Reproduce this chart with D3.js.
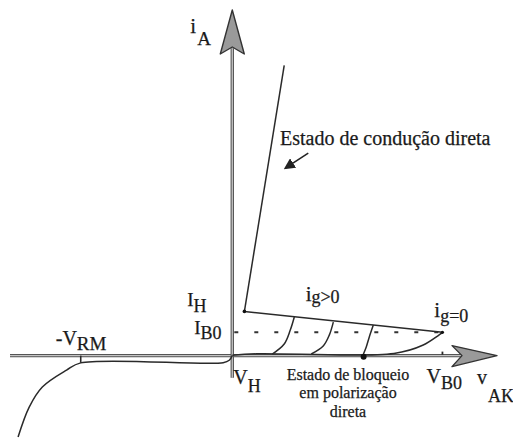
<!DOCTYPE html>
<html>
<head>
<meta charset="utf-8">
<script src="https://cdn.jsdelivr.net/npm/d3@7"></script>
<style>
  html, body { margin: 0; padding: 0; background: #fff; }
  svg { display: block; }
  text { font-family: "Liberation Serif", "Times New Roman", serif; fill: #1a1a1a; stroke: #1a1a1a; stroke-width: 0.25; }
</style>
</head>
<body>
<svg id="chart" width="513" height="439"></svg>
<script>
// Thyristor static characteristic: anode current iA versus anode-cathode voltage vAK
// (arbitrary units, schematic).

// Characteristic points
const holdingVoltage = 6;       // V_H
const holdingCurrent = 22;      // I_H
const breakoverVoltage = 104;   // V_B0
const breakoverCurrent = 11.6;  // I_B0
const reverseMaxVoltage = -75;  // -V_RM

// Reverse blocking branch (v, i)
const reverseCurve = [[0, 0], [-1.5, -2.3], [-4.5, -3.5], [-75, -3.6], [-82, -7.2], [-94, -15.6], [-100.5, -25.6], [-106, -40.5]];
// Forward blocking branch for ig = 0
const forwardBlocking = [[0, 0.2], [12, 0.9], [80, 1.1], [94.5, 5.3], [104, 11.6]];
// Forward conduction branch
const onStateLine = [[6, 22], [25.7, 144.5]];
// Negative-resistance transition from V_B0 back to the holding point
const transitionLine = [[6, 22], [104, 11.6]];
// Turn-on curves for increasing gate current (ig > 0)
const gateCurves = [
  [[30.7, 19.2], [28.7, 12.7], [25.7, 5.8], [19.8, 0.8]],
  [[50.0, 16.7], [48.0, 10.2], [45.0, 4.8], [39.1, 0.8]],
  [[69.8, 15.2], [67.8, 9.3], [66.3, 4.3], [64.9, 0.8]]
];
// Marked operating point on the blocking branch
const blockingPoint = [65, -0.6];

const svg = d3.select("#chart");
const x = d3.scaleLinear().domain([-110, 131]).range([10, 497]);
const y = d3.scaleLinear().domain([-40, 172]).range([436, 10]);

const line = d3.line().x(d => x(d[0])).y(d => y(d[1]));
const smooth = d3.line().x(d => x(d[0])).y(d => y(d[1])).curve(d3.curveCatmullRom.alpha(0.5));

const x0 = x(0), y0 = y(0);

// Axes: grey double-edged lines
function axisLine(x1, y1, x2, y2) {
  svg.append("line").attr("x1", x1).attr("y1", y1).attr("x2", x2).attr("y2", y2)
    .attr("stroke", "#555").attr("stroke-width", 3.4);
  svg.append("line").attr("x1", x1).attr("y1", y1).attr("x2", x2).attr("y2", y2)
    .attr("stroke", "#c4c4c4").attr("stroke-width", 1.3);
}
axisLine(x(-110), y0, x(114), y0);
axisLine(x0, y(-11), x0, y(153));

// Arrowheads
const vTip = [x0, y(172)];
svg.append("path")
  .attr("d", `M${vTip[0]},${vTip[1]} L${x0 + 12},${vTip[1] + 44} L${x0},${vTip[1] + 37} L${x0 - 12},${vTip[1] + 44} Z`)
  .attr("fill", "#9a9a9a").attr("stroke", "#333").attr("stroke-width", 1.4).attr("stroke-linejoin", "round");
const hTip = [x(131), y0];
svg.append("path")
  .attr("d", `M${hTip[0]},${hTip[1]} L${hTip[0] - 45},${hTip[1] - 10} L${hTip[0] - 35},${hTip[1]} L${hTip[0] - 45},${hTip[1] + 11} Z`)
  .attr("fill", "#9a9a9a").attr("stroke", "#333").attr("stroke-width", 1.4).attr("stroke-linejoin", "round");

// I_B0 level (dotted)
svg.append("line")
  .attr("x1", x(1)).attr("x2", x(breakoverVoltage)).attr("y1", y(breakoverCurrent)).attr("y2", y(breakoverCurrent))
  .attr("stroke", "#333").attr("stroke-width", 2).attr("stroke-dasharray", "4,16");

// Curves
const stroke = "#2a2a2a";
const sw = 1.5;
svg.append("path").attr("d", smooth(reverseCurve)).attr("fill", "none").attr("stroke", stroke).attr("stroke-width", sw);
svg.append("path").attr("d", smooth(forwardBlocking)).attr("fill", "none").attr("stroke", stroke).attr("stroke-width", sw);
svg.append("path").attr("d", line(onStateLine)).attr("fill", "none").attr("stroke", stroke).attr("stroke-width", sw);
svg.append("path").attr("d", line(transitionLine)).attr("fill", "none").attr("stroke", stroke).attr("stroke-width", sw);
gateCurves.forEach(c => {
  svg.append("path").attr("d", smooth(c)).attr("fill", "none").attr("stroke", stroke).attr("stroke-width", sw);
});

// Markers
svg.append("line").attr("x1", x(reverseMaxVoltage)).attr("x2", x(reverseMaxVoltage))
  .attr("y1", y0).attr("y2", y(-3.6)).attr("stroke", stroke).attr("stroke-width", 1.6);
svg.append("line").attr("x1", x(breakoverVoltage)).attr("x2", x(breakoverVoltage))
  .attr("y1", y(2)).attr("y2", y(0.4)).attr("stroke", stroke).attr("stroke-width", 1.8);
svg.append("circle").attr("cx", x(blockingPoint[0])).attr("cy", y(blockingPoint[1])).attr("r", 3).attr("fill", "#111");
svg.append("circle").attr("cx", x(holdingVoltage)).attr("cy", y(holdingCurrent)).attr("r", 1.8).attr("fill", "#111");
svg.append("circle").attr("cx", x(breakoverVoltage)).attr("cy", y(breakoverCurrent)).attr("r", 1.6).attr("fill", "#111");

// Annotation arrow for the conduction branch
svg.append("defs").append("marker")
  .attr("id", "head").attr("viewBox", "0 0 10 10").attr("refX", 8).attr("refY", 5)
  .attr("markerWidth", 7).attr("markerHeight", 7).attr("orient", "auto")
  .append("path").attr("d", "M0,0 L10,5 L0,10 Z").attr("fill", "#222");
svg.append("line")
  .attr("x1", x(37.6)).attr("y1", y(100.8)).attr("x2", x(26.4)).attr("y2", y(93.4))
  .attr("stroke", "#222").attr("stroke-width", 1.6).attr("marker-end", "url(#head)");

// Labels (main symbol plus subscript)
function label(px, py, main, sub, subDx, subDy, size, subSize) {
  const t = svg.append("text").attr("x", px).attr("y", py).attr("font-size", size);
  t.append("tspan").text(main);
  if (sub) t.append("tspan").attr("dx", subDx).attr("dy", subDy).attr("font-size", subSize).text(sub);
}
label(x0 - 42, 33, "i", "A", 1, 12, 21, 19);
label(x0 - 45, y(holdingCurrent) - 5, "I", "H", 0, 6, 19, 18);
label(x0 - 38, y(breakoverCurrent) + 2, "I", "B0", 0, 5, 19, 18);
label(x(reverseMaxVoltage) - 25, y0 - 11, "-V", "RM", 0, 5, 20, 19);
label(x0 + 1, y0 + 28, "V", "H", 0, 8, 20, 18);
label(x(breakoverVoltage) - 16, y0 + 27, "V", "B0", 0, 6, 20, 18);
label(477, y0 + 28, "v", "AK", 1, 18, 20, 18);
label(x(36.3), y(holdingCurrent) - 10, "i", "g>0", 0, 2, 21, 18);
label(x(100), y(breakoverCurrent) - 15, "i", "g=0", 0, 5, 21, 18);

svg.append("text").attr("x", 280).attr("y", 145).attr("font-size", 20).text("Estado de condução direta");
const blockText = ["Estado de bloqueio", "em polarização", "direta"];
blockText.forEach((s, k) => {
  svg.append("text").attr("x", 348).attr("y", y0 + 24 + k * 18.5).attr("font-size", 16)
    .attr("text-anchor", "middle").text(s);
});
</script>
</body>
</html>
